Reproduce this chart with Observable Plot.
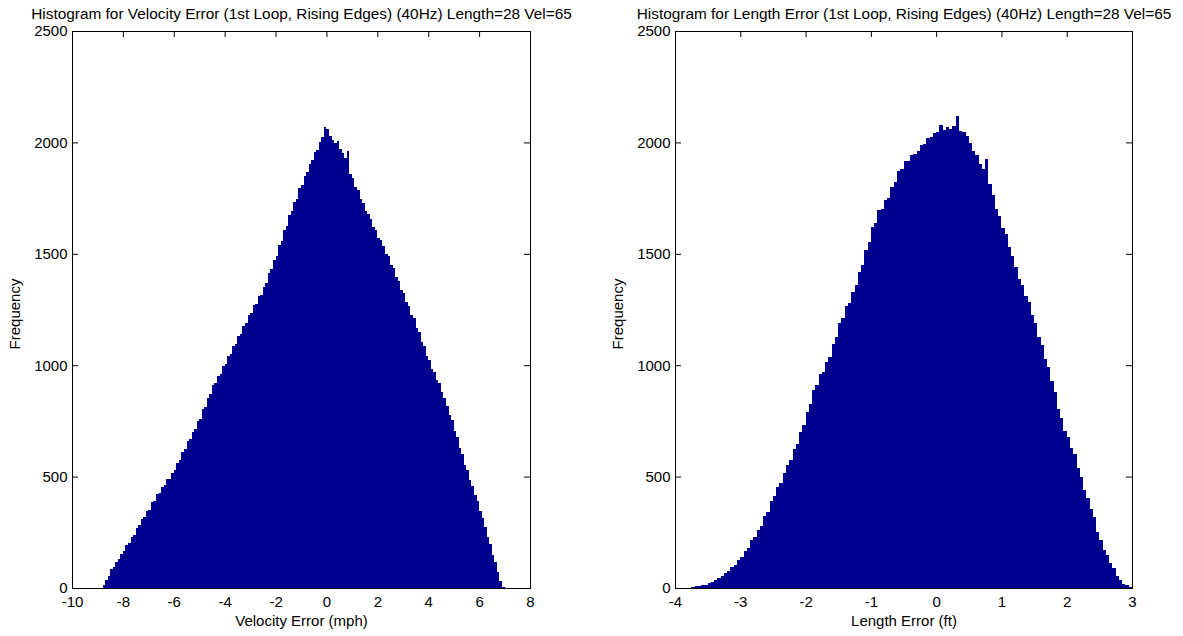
<!DOCTYPE html>
<html><head><meta charset="utf-8">
<script src="https://cdn.jsdelivr.net/npm/d3@7"></script>
<script src="https://cdn.jsdelivr.net/npm/@observablehq/plot@0.6"></script>
<style>
html,body{margin:0;padding:0;background:#fff}
body{width:1183px;height:636px;overflow:hidden;position:relative;font-family:"Liberation Sans",Arial,sans-serif}
.chart{position:absolute;top:0}
#left{left:0}
#right{left:600px}
</style></head><body>
<div id="left" class="chart"></div><div id="right" class="chart"></div>
<script>
// ---- Data ----
const velTitle = "Histogram for Velocity Error (1st Loop, Rising Edges) (40Hz) Length=28 Vel=65";
const lenTitle = "Histogram for Length Error (1st Loop, Rising Edges) (40Hz) Length=28 Vel=65";
const velXLabel = "Velocity Error (mph)";
const lenXLabel = "Length Error (ft)";
const yLabel = "Frequency";
const yTicks = [0, 500, 1000, 1500, 2000, 2500];
const velXTicks = [-10, -8, -6, -4, -2, 0, 2, 4, 6, 8];
const lenXTicks = [-4, -3, -2, -1, 0, 1, 2, 3];
const velBinStart = -8.8, velBinWidth = 0.1;
const lenBinStart = -3.8, lenBinWidth = 0.05;
const velCounts = [
  14, 38, 55, 84, 96,
  118, 130, 154, 166, 193,
  203, 231, 240, 270, 281,
  310, 318, 345, 352, 384,
  392, 420, 428, 455, 461,
  487, 490, 518, 528, 563,
  574, 612, 622, 658, 669,
  701, 712, 748, 758, 805,
  812, 855, 870, 912, 918,
  951, 962, 996, 1005, 1040,
  1050, 1085, 1094, 1130, 1140,
  1178, 1188, 1226, 1236, 1268,
  1275, 1310, 1316, 1352, 1368,
  1412, 1430, 1474, 1490, 1540,
  1558, 1608, 1626, 1675, 1690,
  1733, 1748, 1795, 1808, 1850,
  1865, 1905, 1920, 1958, 1968,
  2002, 2025, 2070, 2062, 2030,
  2012, 1998, 2005, 1970, 1952,
  1928, 1960, 1858, 1840, 1800,
  1786, 1745, 1730, 1692, 1680,
  1655, 1620, 1608, 1572, 1560,
  1536, 1500, 1490, 1450, 1435,
  1396, 1380, 1338, 1322, 1284,
  1266, 1225, 1210, 1168, 1148,
  1105, 1084, 1040, 1022, 985,
  970, 932, 918, 878, 855,
  818, 776, 752, 706, 678,
  630, 602, 552, 528, 484,
  458, 416, 390, 346, 315,
  276, 230, 198, 150, 115,
  70, 32, 5
];
const lenCounts = [
  2, 4, 7, 8, 13, 15, 21, 26, 37, 43,
  52, 68, 77, 96, 105, 127, 138, 165, 180, 214,
  230, 262, 280, 322, 342, 392, 412, 452, 470, 515,
  550, 574, 625, 645, 700, 730, 792, 828, 888, 912,
  960, 970, 1015, 1035, 1095, 1128, 1190, 1212, 1265, 1278,
  1330, 1360, 1420, 1450, 1515, 1555, 1620, 1640, 1695, 1700,
  1740, 1750, 1800, 1822, 1870, 1880, 1915, 1918, 1945, 1948,
  1962, 1990, 1992, 2018, 2022, 2040, 2048, 2080, 2055, 2070,
  2060, 2075, 2120, 2050, 2045, 2030, 1998, 1960, 1945, 1905,
  1880, 1925, 1815, 1765, 1700, 1668, 1615, 1590, 1530, 1490,
  1440, 1385, 1360, 1310, 1285, 1225, 1190, 1128, 1090, 1030,
  990, 930, 880, 805, 762, 705, 678, 630, 600, 540,
  500, 440, 405, 355, 318, 250, 215, 172, 148, 112,
  88, 52, 36, 20, 12, 4
];

const FONT = '"Liberation Sans", Arial, Helvetica, sans-serif';

function hist({counts, start, binWidth, xDomain, xTicks, title, xLabel, width, ml, mr}) {
  const data = counts.map((c, i) => ({x1: start + i * binWidth, x2: start + (i + 1) * binWidth, y: c}));
  const H = 636, mt = 31, mb = 48;
  const innerH = H - mt - mb;
  const innerW = width - ml - mr;
  const tk = 6;
  return Plot.plot({
    width, height: H,
    marginLeft: ml, marginRight: mr, marginTop: mt, marginBottom: mb,
    style: {fontFamily: FONT, fontSize: "15px", color: "#000", background: "#fff", overflow: "visible"},
    x: {domain: xDomain, ticks: xTicks, tickSize: 0, tickPadding: 8, tickFormat: d => String(d), label: null},
    y: {domain: [0, 2500], ticks: yTicks, tickSize: 0, tickPadding: 5, tickFormat: d => String(d), label: null},
    marks: [
      Plot.tickX(xTicks, {x: d => d, stroke: "#000", insetTop: innerH - tk}),
      Plot.tickX(xTicks, {x: d => d, stroke: "#000", insetBottom: innerH - tk}),
      Plot.tickY(yTicks, {y: d => d, stroke: "#000", insetRight: innerW - tk}),
      Plot.tickY(yTicks, {y: d => d, stroke: "#000", insetLeft: innerW - tk}),
      Plot.rectY(data, {x1: "x1", x2: "x2", y: "y", fill: "#00008f", shapeRendering: "crispEdges"}),
      Plot.frame({stroke: "#000"}),
      Plot.text([title], {frameAnchor: "top", lineAnchor: "middle", textAnchor: "middle", dy: -17, fontSize: 15.4, fill: "#000", fontFamily: FONT}),
      Plot.text([xLabel], {frameAnchor: "bottom", lineAnchor: "middle", textAnchor: "middle", dy: 33, fontSize: 15, fill: "#000", fontFamily: FONT}),
      Plot.text([yLabel], {frameAnchor: "left", lineAnchor: "middle", textAnchor: "middle", dx: -57, dy: 4, rotate: -90, fontSize: 15, fill: "#000", fontFamily: FONT})
    ]
  });
}

document.getElementById("left").append(hist({
  counts: velCounts, start: velBinStart, binWidth: velBinWidth,
  xDomain: [-10, 8], xTicks: velXTicks, title: velTitle, xLabel: velXLabel,
  width: 600, ml: 72, mr: 70
}));
document.getElementById("right").append(hist({
  counts: lenCounts, start: lenBinStart, binWidth: lenBinWidth,
  xDomain: [-4, 3], xTicks: lenXTicks, title: lenTitle, xLabel: lenXLabel,
  width: 583, ml: 75, mr: 51
}));
</script>
</body></html>
